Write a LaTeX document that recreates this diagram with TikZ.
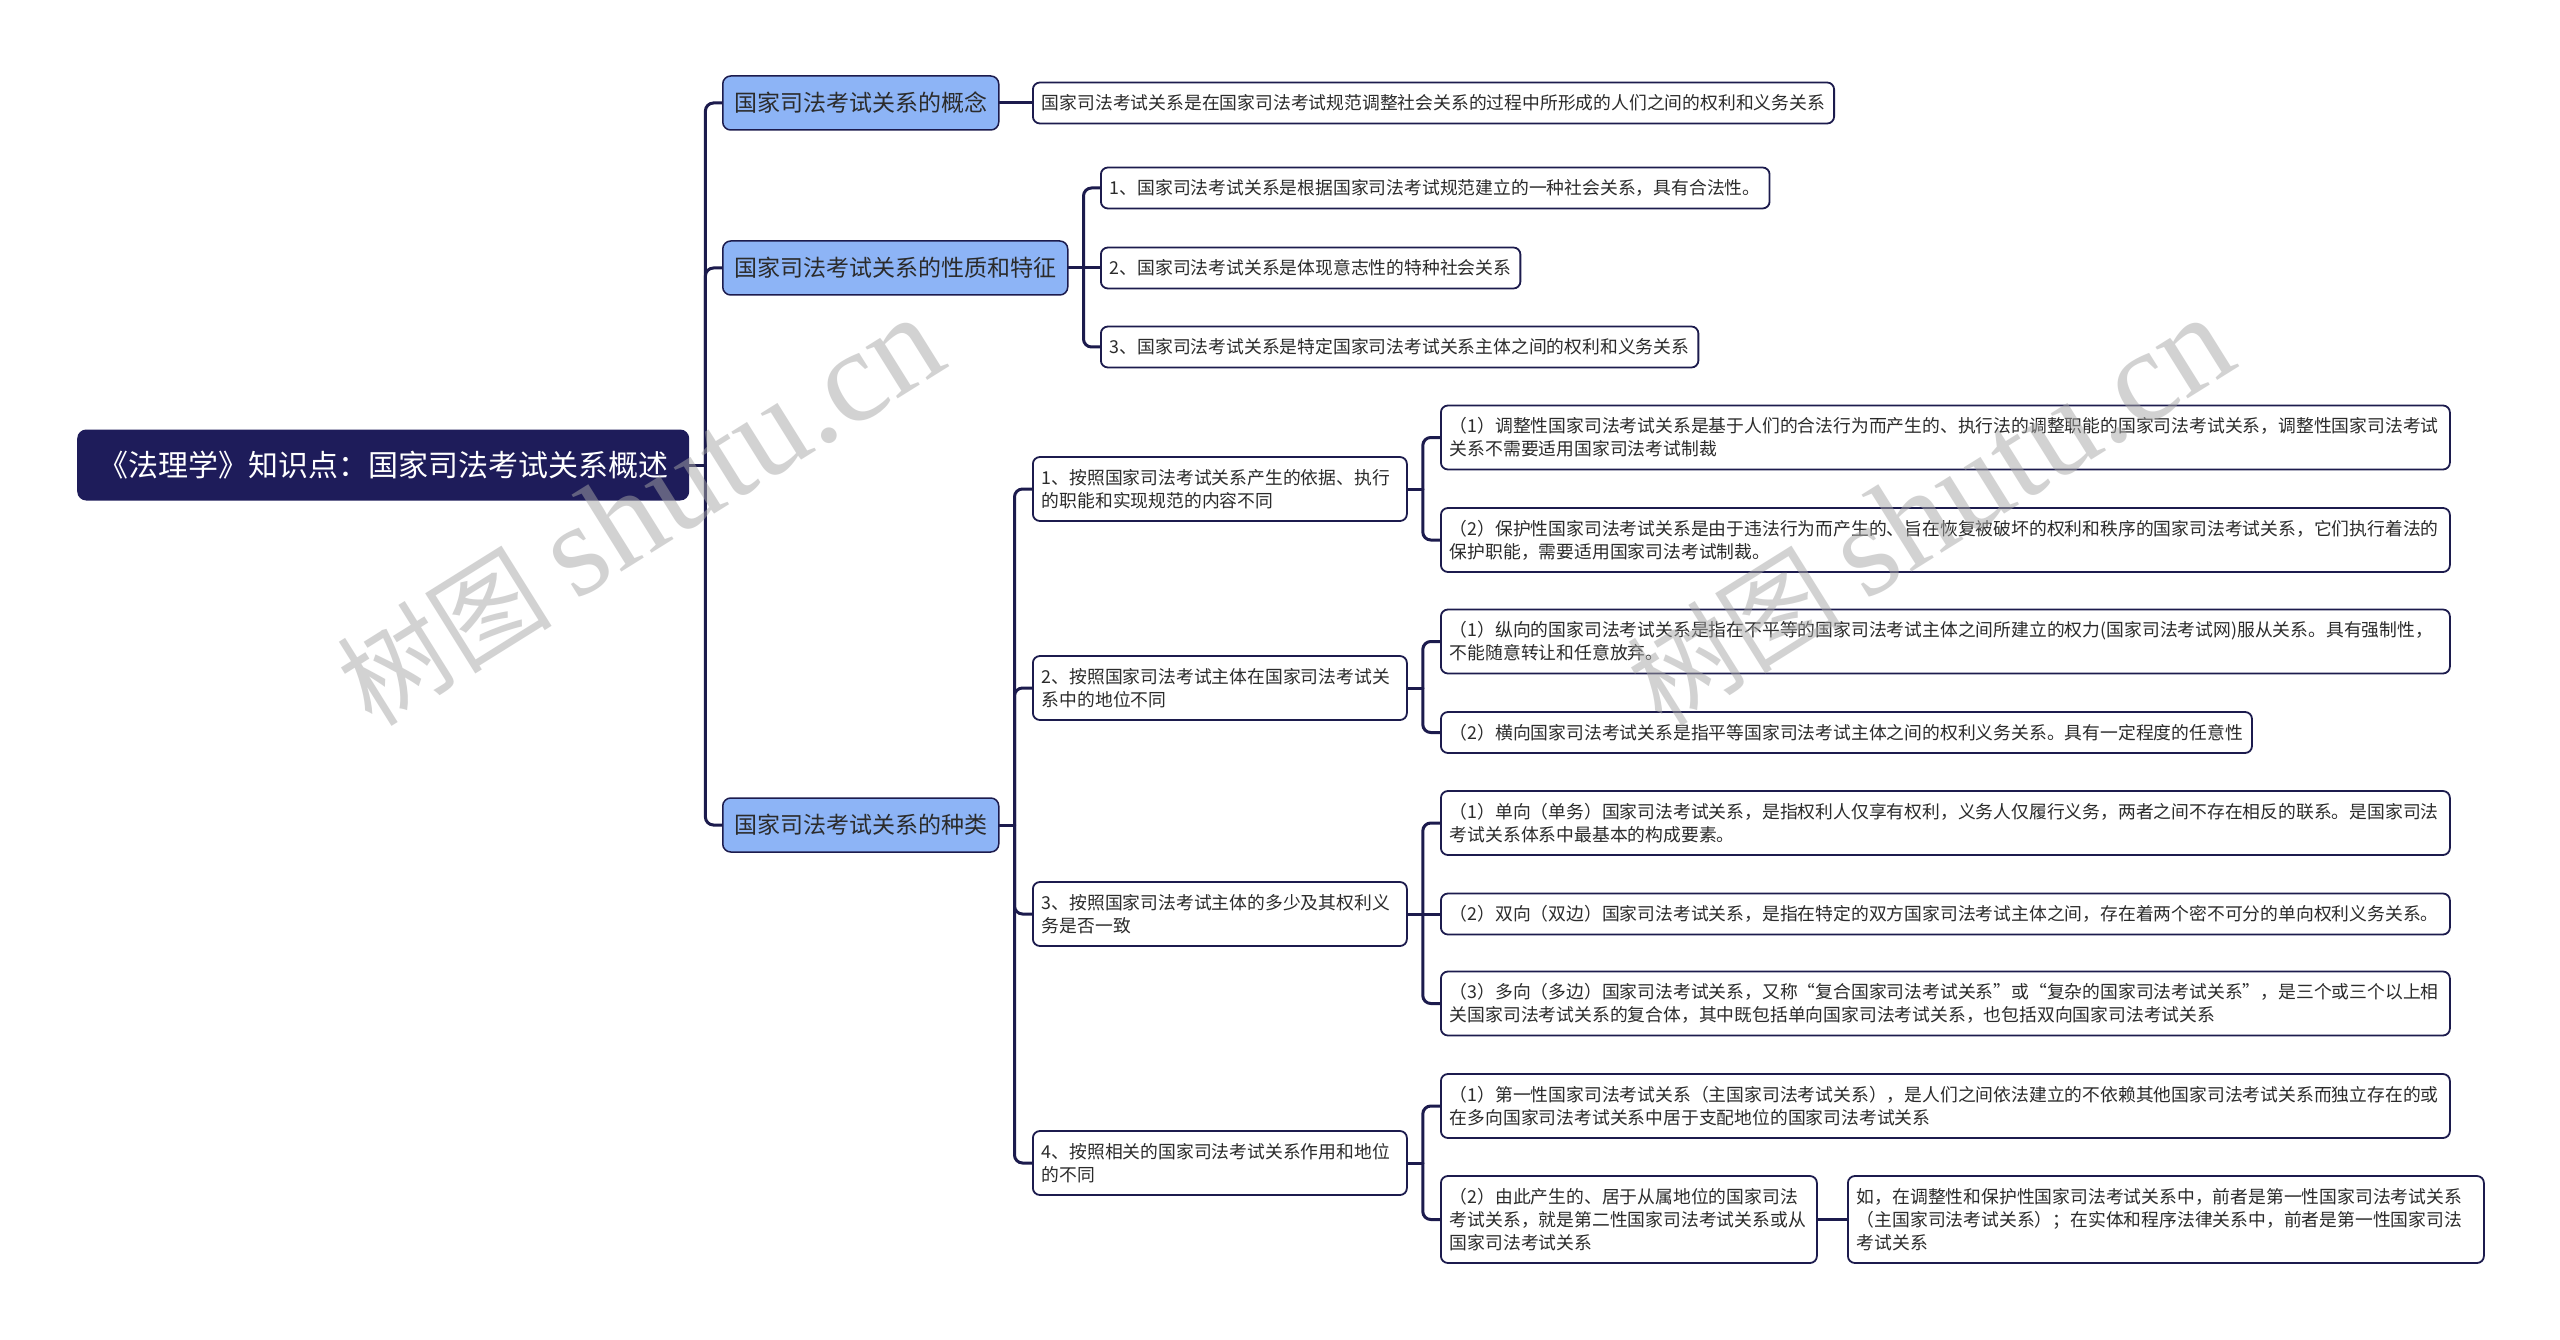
\documentclass[tikz,border=0pt]{standalone}
\usepackage{fontspec}
\newfontfamily\cjk{Noto Sans CJK SC}
\newfontfamily\wmlat{Liberation Serif}
\definecolor{rootc}{HTML}{1E1C5A}
\definecolor{lonec}{HTML}{8DB4F6}
\definecolor{linec}{HTML}{1C1B4D}
\definecolor{txtc}{HTML}{2B2B2B}
\pgfdeclarelayer{background}
\pgfsetlayers{background,main}
\begin{document}
\begin{tikzpicture}[x=1pt,y=-1pt,
  rootbox/.style={anchor=west, fill=rootc, text=white, rounded corners=9,
    font=\cjk\fontsize{30}{36}\selectfont, minimum width=612, minimum height=71, inner xsep=0, inner ysep=0},
  lone/.style={anchor=west, fill=lonec, draw=linec, line width=1.5, rounded corners=8,
    font=\cjk\fontsize{23}{28}\selectfont, text=txtc, minimum height=54, inner xsep=11.5, inner ysep=0},
  box/.style={anchor=west, fill=white, draw=linec, line width=1.8, rounded corners=7,
    font=\cjk\fontsize{17.8}{23}\selectfont, text=txtc, inner xsep=9, inner ysep=0, align=left},
  hone/.style={minimum height=41},
  htwo/.style={minimum height=64},
  hthree/.style={minimum height=87},
  wide/.style={box, text width=991},
  conn/.style={draw=linec, line width=3, rounded corners=8, line cap=round},
  wm/.style={rotate=32, font=\cjk\fontsize{108}{108}\selectfont, text=black!35, text opacity=0.5}
]
\useasboundingbox (0,0) rectangle (2560,1340);
\begin{pgfonlayer}{background}
\fill[white] (0,0) rectangle (2560,1340);
\end{pgfonlayer}

% root and level 1
\node[rootbox] (root) at (77,465) {《法理学》知识点：国家司法考试关系概述};
\node[lone] (a) at (722,103) {国家司法考试关系的概念};
\node[lone] (b) at (722,268) {国家司法考试关系的性质和特征};
\node[lone] (c) at (722,825) {国家司法考试关系的种类};

% concept
\node[box,hone] (a1) at (1032,103) {国家司法考试关系是在国家司法考试规范调整社会关系的过程中所形成的人们之间的权利和义务关系};

% features
\node[box,hone] (b1) at (1100,188) {1、国家司法考试关系是根据国家司法考试规范建立的一种社会关系，具有合法性。};
\node[box,hone] (b2) at (1100,268) {2、国家司法考试关系是体现意志性的特种社会关系};
\node[box,hone] (b3) at (1100,347) {3、国家司法考试关系是特定国家司法考试关系主体之间的权利和义务关系};

% types level 2
\node[box,htwo,text width=356] (c1) at (1032,489) {1、按照国家司法考试关系产生的依据、执行\\的职能和实现规范的内容不同};
\node[box,htwo,text width=356] (c2) at (1032,688) {2、按照国家司法考试主体在国家司法考试关\\系中的地位不同};
\node[box,htwo,text width=356] (c3) at (1032,914) {3、按照国家司法考试主体的多少及其权利义\\务是否一致};
\node[box,htwo,text width=356] (c4) at (1032,1163) {4、按照相关的国家司法考试关系作用和地位\\的不同};

% types level 3
\node[wide,htwo] (c1a) at (1440,437.5) {（1）调整性国家司法考试关系是基于人们的合法行为而产生的、执行法的调整职能的国家司法考试关系，调整性国家司法考试\\关系不需要适用国家司法考试制裁};
\node[wide,htwo] (c1b) at (1440,540) {（2）保护性国家司法考试关系是由于违法行为而产生的、旨在恢复被破坏的权利和秩序的国家司法考试关系，它们执行着法的\\保护职能，需要适用国家司法考试制裁。};
\node[wide,htwo] (c2a) at (1440,641.5) {（1）纵向的国家司法考试关系是指在不平等的国家司法考试主体之间所建立的权力(国家司法考试网)服从关系。具有强制性，\\不能随意转让和任意放弃。};
\node[box,hone] (c2b) at (1440,732.5) {（2）横向国家司法考试关系是指平等国家司法考试主体之间的权利义务关系。具有一定程度的任意性};
\node[wide,htwo] (c3a) at (1440,823) {（1）单向（单务）国家司法考试关系，是指权利人仅享有权利，义务人仅履行义务，两者之间不存在相反的联系。是国家司法\\考试关系体系中最基本的构成要素。};
\node[wide,hone] (c3b) at (1440,914) {（2）双向（双边）国家司法考试关系，是指在特定的双方国家司法考试主体之间，存在着两个密不可分的单向权利义务关系。};
\node[wide,htwo] (c3c) at (1440,1003.5) {（3）多向（多边）国家司法考试关系，又称“复合国家司法考试关系”或“复杂的国家司法考试关系”，是三个或三个以上相\\关国家司法考试关系的复合体，其中既包括单向国家司法考试关系，也包括双向国家司法考试关系};
\node[wide,htwo] (c4a) at (1440,1106) {（1）第一性国家司法考试关系（主国家司法考试关系），是人们之间依法建立的不依赖其他国家司法考试关系而独立存在的或\\在多向国家司法考试关系中居于支配地位的国家司法考试关系};
\node[box,hthree,text width=358] (c4b) at (1440,1219.5) {（2）由此产生的、居于从属地位的国家司法\\考试关系，就是第二性国家司法考试关系或从\\国家司法考试关系};
\node[box,hthree,text width=618] (c4c) at (1847,1219.5) {如，在调整性和保护性国家司法考试关系中，前者是第一性国家司法考试关系\\（主国家司法考试关系）；在实体和程序法律关系中，前者是第一性国家司法\\考试关系};

% junctions
\coordinate (jr) at ([xshift=16]root.east);
\coordinate (jb) at ([xshift=15]b.east);
\coordinate (jc) at ([xshift=15]c.east);
\coordinate (j1) at ([xshift=15]c1.east);
\coordinate (j2) at ([xshift=15]c2.east);
\coordinate (j3) at ([xshift=15]c3.east);
\coordinate (j4) at ([xshift=15]c4.east);

\begin{pgfonlayer}{background}
\draw[conn] (root.east) -- (jr);
\draw[conn] (jr) |- (a.west);
\draw[conn] (jr) |- (b.west);
\draw[conn] (jr) |- (c.west);
\draw[conn] (a.east) -- (a1.west);
\draw[conn] (b.east) -- (b2.west);
\draw[conn] (jb) |- (b1.west);
\draw[conn] (jb) |- (b3.west);
\draw[conn] (c.east) -- (jc);
\draw[conn] (jc) |- (c1.west);
\draw[conn] (jc) |- (c2.west);
\draw[conn] (jc) |- (c3.west);
\draw[conn] (jc) |- (c4.west);
\draw[conn] (c1.east) -- (j1);
\draw[conn] (j1) |- (c1a.west);
\draw[conn] (j1) |- (c1b.west);
\draw[conn] (c2.east) -- (j2);
\draw[conn] (j2) |- (c2a.west);
\draw[conn] (j2) |- (c2b.west);
\draw[conn] (c3.east) -- (c3b.west);
\draw[conn] (j3) |- (c3a.west);
\draw[conn] (j3) |- (c3c.west);
\draw[conn] (c4.east) -- (j4);
\draw[conn] (j4) |- (c4a.west);
\draw[conn] (j4) |- (c4b.west);
\draw[conn] (c4b.east) -- (c4c.west);
\end{pgfonlayer}

% watermarks
\node[wm] (w1) at (640,512) {树图 {\wmlat\fontsize{132}{132}\selectfont shutu.cn}};
\node[wm] (w2) at (1930,512) {树图 {\wmlat\fontsize{132}{132}\selectfont shutu.cn}};
\end{tikzpicture}
\end{document}
